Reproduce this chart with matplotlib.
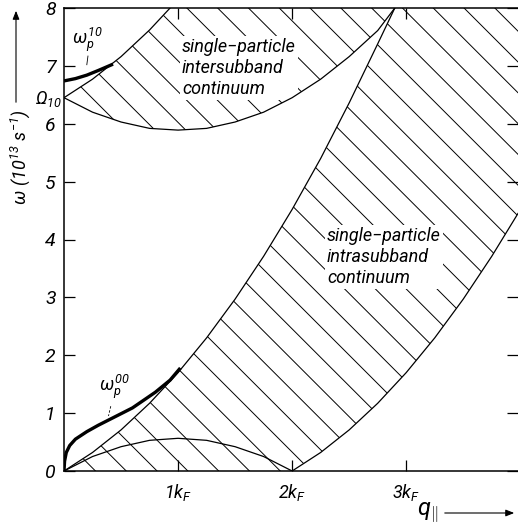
import matplotlib
matplotlib.use("Agg")
import matplotlib.pyplot as plt
from matplotlib.patches import Polygon, FancyArrowPatch
import numpy as np

# q in units of k_F, omega in 10^13 s^-1
q_intra_up = [0, 0.25, 0.5, 0.75, 1.0, 1.25, 1.5, 1.75, 2.0, 2.25, 2.5, 2.75, 2.9]
w_intra_up = [0, 0.32, 0.71, 1.17, 1.70, 2.30, 2.97, 3.71, 4.52, 5.40, 6.36, 7.38, 8.0]
q_intra_lo = [2.0, 2.25, 2.5, 2.75, 3.0, 3.25, 3.5, 3.75, 3.98]
w_intra_lo = [0, 0.32, 0.71, 1.17, 1.70, 2.30, 2.97, 3.71, 4.45]
q_dome = [0, 0.25, 0.5, 0.75, 1.0, 1.25, 1.5, 1.75, 2.0]
w_dome = [0, 0.25, 0.42, 0.53, 0.565, 0.53, 0.42, 0.25, 0]
q_inter_up = [0, 0.25, 0.5, 0.75, 0.93]
w_inter_up = [6.45, 6.77, 7.16, 7.62, 8.0]
q_inter_lo = [0, 0.25, 0.5, 0.75, 1.0, 1.25, 1.5, 1.75, 2.0, 2.25, 2.5, 2.75, 2.9]
w_inter_lo = [6.45, 6.20, 6.03, 5.92, 5.89, 5.92, 6.03, 6.20, 6.45, 6.77, 7.16, 7.61, 8.0]
q_wp00 = [0, 0.005, 0.02, 0.05, 0.1, 0.2, 0.3, 0.43, 0.6, 0.8, 0.93, 1.02]
w_wp00 = [0, 0.17, 0.32, 0.44, 0.55, 0.68, 0.79, 0.92, 1.09, 1.36, 1.57, 1.78]
q_wp10 = [0, 0.1, 0.2, 0.3, 0.43]
w_wp10 = [6.74, 6.78, 6.84, 6.92, 7.03]

y_ticks = [0, 1, 2, 3, 4, 5, 6, 7, 8]
x_ticks = [1, 2, 3]
x_tick_labels = ["1$k_F$", "2$k_F$", "3$k_F$"]

XMAX, YMAX = 3.98, 8.0
FAMILY = "Roboto"

plt.rcParams["font.family"] = [FAMILY, "DejaVu Sans"]
plt.rcParams["font.style"] = "italic"
plt.rcParams["mathtext.fontset"] = "custom"
plt.rcParams["mathtext.rm"] = FAMILY + ":italic"
plt.rcParams["mathtext.it"] = FAMILY + ":italic"

fig = plt.figure(figsize=(5.18, 5.31), dpi=100)
ax = fig.add_axes([64 / 518, 60 / 531, 454 / 518, 463 / 531])
ax.set_xlim(0, XMAX)
ax.set_ylim(0, YMAX)

# continuum regions, used as clip paths for the hatching
intra_pts = (list(zip(q_intra_up, w_intra_up)) + [(XMAX, YMAX)]
             + list(zip(q_intra_lo, w_intra_lo))[::-1])
inter_pts = (list(zip(q_inter_up, w_inter_up))
             + list(zip(q_inter_lo, w_inter_lo))[::-1])

# hatch lines at 45 degrees in pixel space
kx = 454 / XMAX
ky = 463 / YMAX
slope = kx / ky
spacing = 0.27
for pts in (intra_pts, inter_pts):
    poly = Polygon(pts, closed=True, facecolor="none", edgecolor="none")
    ax.add_patch(poly)
    for x0 in np.arange(3.237 - 40 * spacing, XMAX + spacing, spacing):
        line, = ax.plot([x0, x0 + YMAX / slope], [YMAX, 0], color="black", lw=0.7)
        line.set_clip_path(poly)

for qq, ww in [(q_intra_up, w_intra_up), (q_intra_lo, w_intra_lo), (q_dome, w_dome),
               (q_inter_up, w_inter_up), (q_inter_lo, w_inter_lo)]:
    ax.plot(qq, ww, color="black", lw=0.9, zorder=6)
ax.plot(q_wp00, w_wp00, color="black", lw=2.4, solid_capstyle="butt", zorder=6)
ax.plot(q_wp10, w_wp10, color="black", lw=2.4, solid_capstyle="butt", zorder=6)

box = dict(facecolor="white", edgecolor="none", pad=1.5)
ax.text((182 - 64) / kx, YMAX - 30 / ky,
        "single\u2212particle\nintersubband\ncontinuum", fontsize=13,
        va="top", ha="left", linespacing=1.2, bbox=box, zorder=5)
ax.text((327 - 64) / kx, (471 - 227) / ky,
        "single\u2212particle\nintrasubband\ncontinuum", fontsize=13,
        va="top", ha="left", linespacing=1.2, bbox=box, zorder=5)

ax.text(0.2, 7.45, r"$\omega_p^{10}$", fontsize=13, ha="center", va="center")
ax.plot([0.21, 0.2], [7.17, 7.02], color="black", lw=0.6)
ax.text(-0.02, 6.42, r"$\Omega_{10}$", fontsize=13, ha="right", va="center", clip_on=False)
ax.text(0.44, 1.45, r"$\omega_p^{00}$", fontsize=13, ha="center", va="center")
ax.plot([0.41, 0.39], [1.12, 0.95], color="black", lw=0.6, ls=(0, (3, 2)))

ax.set_yticks(y_ticks)
ax.set_yticklabels([str(v) for v in y_ticks], fontsize=14)
ax.set_xticks(x_ticks)
ax.set_xticklabels(x_tick_labels, fontsize=13)
ax.tick_params(direction="in", length=8, width=0.9, top=True, right=True,
               labelright=False, labeltop=False)
ax.tick_params(axis="y", pad=6)
ax.tick_params(axis="x", pad=8)
for side in ("left", "bottom", "top"):
    ax.spines[side].set_linewidth(1.1)
ax.spines["right"].set_visible(False)

# axis titles with arrows
fig.text(20 / 518, 1 - 157 / 531, r"$\omega\ (10^{13}\ s^{-1})$", rotation=90,
         fontsize=13, ha="center", va="center")
fig.add_artist(FancyArrowPatch(
    (16 / 518, 1 - 105 / 531), (16 / 518, 1 - 8 / 531), transform=fig.transFigure,
    arrowstyle="-|>,head_length=5,head_width=2", lw=0.8, color="black"))
fig.text(428 / 518, 1 - 513 / 531, r"$q_{\Vert}$", fontsize=17, ha="center", va="center")
fig.add_artist(FancyArrowPatch(
    (442 / 518, 1 - 513 / 531), (517 / 518, 1 - 513 / 531), transform=fig.transFigure,
    arrowstyle="-|>,head_length=5,head_width=2", lw=0.8, color="black"))

fig.savefig("out.png", dpi=100)
